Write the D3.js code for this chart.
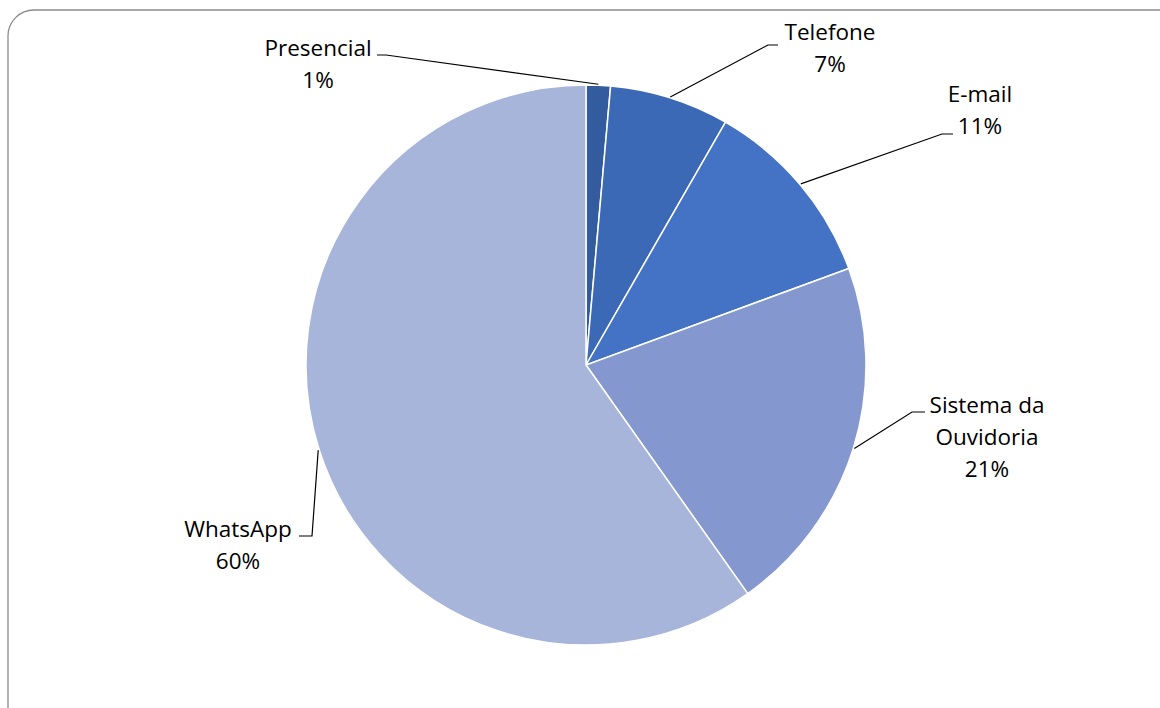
<!DOCTYPE html>
<html>
<head>
<meta charset="utf-8">
<script src="https://cdn.jsdelivr.net/npm/d3@7"></script>
<style>
  html, body { margin: 0; padding: 0; background: #fff; }
  svg { display: block; }
  text { font-family: "Open Sans", Lato, sans-serif; font-size: 22.5px; fill: #000; }
</style>
</head>
<body>
<svg id="chart" width="1160" height="708"></svg>
<script>
const categories = ["Presencial", "Telefone", "E-mail", "Sistema da Ouvidoria", "WhatsApp"];
const values = [1.4, 6.9, 11.1, 20.8, 59.8];
const percentLabels = ["1%", "7%", "11%", "21%", "60%"];
const labelLines = [["Presencial"], ["Telefone"], ["E-mail"], ["Sistema da", "Ouvidoria"], ["WhatsApp"]];
const colors = ["#335C9F", "#3C69B5", "#4472C4", "#8497CF", "#A8B5DA"];

const svg = d3.select("#chart");
const cx = 586, cy = 365, R = 280;

// outer frame
svg.append("rect")
  .attr("x", 8).attr("y", 10).attr("width", 1180).attr("height", 730)
  .attr("rx", 26).attr("ry", 26)
  .attr("fill", "none").attr("stroke", "#8c8c8c").attr("stroke-width", 1.3);

const data = categories.map((c, i) => ({ name: c, value: values[i], pct: percentLabels[i], lines: labelLines[i], color: colors[i] }));

const pie = d3.pie().sort(null).value(d => d.value);
const arcs = pie(data);
const arc = d3.arc().innerRadius(0).outerRadius(R);

const g = svg.append("g").attr("transform", `translate(${cx},${cy})`);
g.selectAll("path").data(arcs).enter().append("path")
  .attr("d", arc)
  .attr("fill", d => d.data.color)
  .attr("stroke", "#fff").attr("stroke-width", 1.5);

// label layout (positions on the page)
const layout = [
  { tx: 318, ty: 56, elbow: [386, 55], end: [377, 55] },
  { tx: 830, ty: 40, elbow: [768, 45], end: [778, 45] },
  { tx: 980, ty: 102, elbow: [942, 134], end: [953, 134] },
  { tx: 987, ty: 413, elbow: [912, 412], end: [925, 412] },
  { tx: 238, ty: 537, elbow: [312, 536], end: [299, 536] }
];

arcs.forEach((a, i) => {
  const L = layout[i];
  const ang = (a.startAngle + a.endAngle) / 2;
  const r = R + 1;
  const ax = cx + r * Math.sin(ang);
  const ay = cy - r * Math.cos(ang);
  svg.append("polyline")
    .attr("points", [[ax, ay], L.elbow, L.end].map(p => p.join(",")).join(" "))
    .attr("fill", "none").attr("stroke", "#000").attr("stroke-width", 1.2);

  const lines = a.data.lines.concat([a.data.pct]);
  const t = svg.append("text").attr("text-anchor", "middle");
  lines.forEach((ln, k) => {
    t.append("tspan").attr("x", L.tx).attr("y", L.ty + k * 32).text(ln);
  });
});
</script>
</body>
</html>
